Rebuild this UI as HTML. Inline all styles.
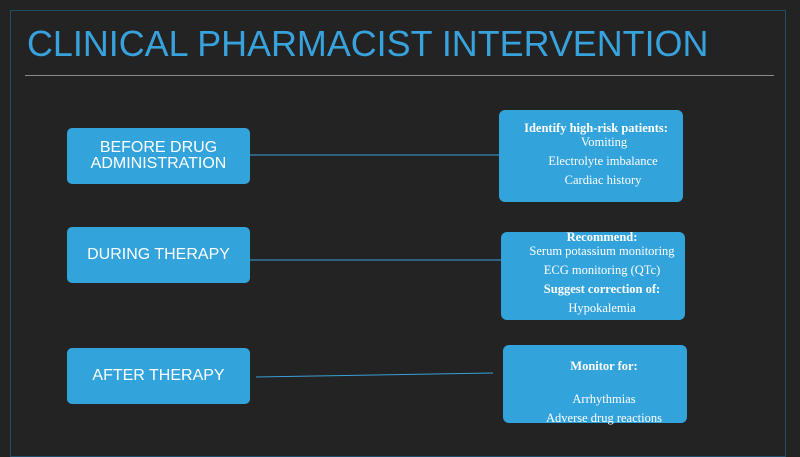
<!DOCTYPE html>
<html><head><style>
body{margin:0;width:800px;height:450px;background:#232323;position:relative;overflow:hidden;font-family:"Liberation Sans",sans-serif}
.frame{position:absolute;left:10px;top:10px;width:774px;height:445px;border:1px solid #1f4e6a}
.t{position:absolute;left:27px;top:24px;font-size:35.9px;color:#38a2dc;white-space:nowrap}
.hr{position:absolute;left:25px;top:75px;width:749px;height:1px;background:#8a8a8a}
.b{position:absolute;background:#33a3dc;border-radius:5px;color:#fff;display:flex;align-items:center;justify-content:center;text-align:center;font-size:16px;line-height:16px}
.r{position:absolute;background:#33a3dc;border-radius:6px;color:#fff;text-align:center;font-family:"Liberation Serif",serif;font-size:12.5px}
.r div{position:absolute;left:0;right:0;white-space:nowrap}
b{font-weight:bold}
</style></head><body>
<div class="frame"></div>
<div class="t">CLINICAL PHARMACIST INTERVENTION</div>
<div class="hr"></div>
<svg style="position:absolute;left:0;top:0" width="800" height="450">
<line x1="250" y1="155" x2="499" y2="155" stroke="#3a9fd6" stroke-width="1"/>
<line x1="250" y1="260" x2="501" y2="260" stroke="#3a9fd6" stroke-width="1"/>
<line x1="256" y1="377" x2="493" y2="373" stroke="#3a9fd6" stroke-width="1"/>
</svg>
<div class="b" style="left:67px;top:128px;width:183px;height:56px">BEFORE DRUG<br>ADMINISTRATION</div>
<div class="b" style="left:67px;top:227px;width:183px;height:56px">DURING THERAPY</div>
<div class="b" style="left:67px;top:348px;width:183px;height:56px">AFTER THERAPY</div>
<div class="r" style="left:499px;top:110px;width:184px;height:92px">
<div style="top:11px;left:10px"><b>Identify high-risk patients:</b></div>
<div style="top:25px;left:26px">Vomiting</div>
<div style="top:44px;left:24px">Electrolyte imbalance</div>
<div style="top:63px;left:24px">Cardiac history</div></div>
<div class="r" style="left:501px;top:232px;width:184px;height:88px">
<div style="top:-2px;left:18px"><b>Recommend:</b></div>
<div style="top:12px;left:18px">Serum potassium monitoring</div>
<div style="top:31px;left:18px">ECG monitoring (QTc)</div>
<div style="top:50px;left:18px"><b>Suggest correction of:</b></div>
<div style="top:69px;left:18px">Hypokalemia</div></div>
<div class="r" style="left:503px;top:345px;width:184px;height:78px">
<div style="top:14px;left:18px"><b>Monitor for:</b></div>
<div style="top:47px;left:18px">Arrhythmias</div>
<div style="top:66px;left:18px">Adverse drug reactions</div></div>
</body></html>
